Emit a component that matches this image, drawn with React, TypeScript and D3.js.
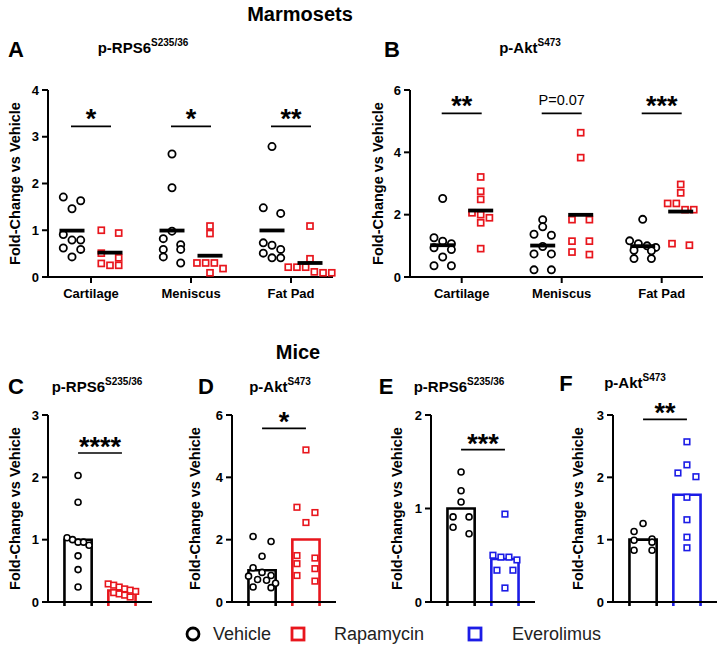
import React from 'react';
import * as d3 from 'd3';

// ---- data ----
const tissues = ['Cartilage', 'Meniscus', 'Fat Pad'];

// A: marmoset p-RPS6, one array per tissue
const rps6MarmVehicle = [
  [1.71, 1.63, 1.46, 0.91, 0.79, 0.79, 0.62, 0.59, 0.43],
  [2.63, 1.91, 0.98, 0.82, 0.69, 0.59, 0.59, 0.43, 0.3],
  [2.79, 1.48, 1.36, 0.73, 0.68, 0.59, 0.51, 0.41, 0.41],
];
const rps6MarmRapa = [
  [1.0, 0.94, 0.51, 0.41, 0.29, 0.25, 0.25],
  [1.09, 0.93, 0.3, 0.3, 0.3, 0.18, 0.09],
  [1.09, 0.39, 0.21, 0.21, 0.21, 0.11, 0.09, 0.09],
];
const rps6MarmSig = ['*', '*', '**'];
const rps6MarmTicks = [0, 1, 2, 3, 4];

// B: marmoset p-Akt
const aktMarmVehicle = [
  [2.52, 1.26, 1.15, 1.07, 0.94, 0.88, 0.64, 0.36, 0.36],
  [1.84, 1.61, 1.37, 1.34, 0.98, 0.74, 0.74, 0.23, 0.23],
  [1.85, 1.16, 1.07, 1.0, 0.95, 0.86, 0.84, 0.59, 0.59],
];
const aktMarmRapa = [
  [3.21, 2.75, 2.49, 2.06, 2.0, 1.9, 1.74, 0.91],
  [4.63, 3.83, 1.84, 1.84, 1.15, 1.15, 0.8, 0.72],
  [2.97, 2.7, 2.36, 2.36, 2.16, 2.16, 1.07, 1.02],
];
const aktMarmSig = ['**', 'P=0.07', '***'];
const aktMarmTicks = [0, 2, 4, 6];

// C-F: mice
const rps6RapaVehicle = [2.03, 1.6, 1.03, 1.0, 0.96, 0.96, 0.91, 0.74, 0.52, 0.24];
const rps6RapaDrug = [0.29, 0.27, 0.24, 0.21, 0.19, 0.17, 0.15, 0.13, 0.11, 0.08];
const aktRapaVehicle = [2.1, 1.94, 1.47, 1.1, 0.95, 0.85, 0.83, 0.72, 0.7, 0.6, 0.48, 0.46];
const aktRapaDrug = [4.88, 3.04, 2.87, 2.55, 1.49, 1.41, 1.23, 1.07, 0.85, 0.67];
const rps6EveroVehicle = [1.39, 1.19, 1.07, 0.91, 0.91, 0.8, 0.73];
const rps6EveroDrug = [0.94, 0.5, 0.48, 0.48, 0.45, 0.34, 0.34, 0.15];
const aktEveroVehicle = [1.26, 1.13, 1.01, 0.99, 0.96, 0.83, 0.83];
const aktEveroDrug = [2.57, 2.2, 2.07, 2.01, 1.68, 1.32, 1.04, 0.87];

const legendItems = ['Vehicle', 'Rapamycin', 'Everolimus'];

const FONT = '"Liberation Sans", Arial, Helvetica, sans-serif';
const RED = '#e8161d';
const BLUE = '#1c1ce6';
const AXIS_LABEL = 'Fold-Change vs Vehicle';
const STAR_SIZE = 27;

// Prism-like scatter: bin points into rows, centre each row
function swarm(values: number[], y: (v: number) => number, bin: number, step: number) {
  const sorted = [...values].sort((a, b) => b - a);
  const rows: number[][] = [];
  let cur: number[] = [];
  let start = 0;
  sorted.forEach(v => {
    const py = y(v);
    if (cur.length && py - start < bin) cur.push(v);
    else {
      if (cur.length) rows.push(cur);
      cur = [v];
      start = py;
    }
  });
  if (cur.length) rows.push(cur);
  const out: { v: number; dx: number }[] = [];
  rows.forEach(r => {
    const n = r.length;
    r.forEach((v, k) => {
      const dx = n === 2 ? (k === 0 ? -step : step) : (k - (n - 1) / 2) * step;
      out.push({ v, dx });
    });
  });
  return out;
}

const Circle = ({ x, y, r, w }: any) => (
  <circle cx={x} cy={y} r={r} fill="white" stroke="black" strokeWidth={w} />
);
const Square = ({ x, y, s, w, color }: any) => (
  <rect x={x - s / 2} y={y - s / 2} width={s} height={s} fill="white" stroke={color} strokeWidth={w} />
);

const Title = ({ x, y, main, sup }: any) => (
  <text x={x} y={y} textAnchor="middle" fontFamily={FONT} fontWeight="bold" fontSize={15}>
    <tspan>{main}</tspan>
    <tspan dy={-7} fontSize={10}>{sup}</tspan>
  </text>
);

const YAxis = ({ x, y, ticks, labelX, top, bottom }: any) => (
  <g>
    <line x1={x} x2={x} y1={bottom} y2={top} stroke="black" strokeWidth={2} />
    {ticks.map((t: number) => (
      <g key={t}>
        <line x1={x - 6} x2={x} y1={y(t)} y2={y(t)} stroke="black" strokeWidth={2} />
        <text x={x - 9} y={y(t) + 4.5} textAnchor="end" fontFamily={FONT} fontWeight="bold" fontSize={13}>
          {t}
        </text>
      </g>
    ))}
    <text
      transform={`translate(${labelX},${(top + bottom) / 2}) rotate(-90)`}
      textAnchor="middle"
      dy="0.35em"
      fontFamily={FONT}
      fontWeight="bold"
      fontSize={14.5}
    >
      {AXIS_LABEL}
    </text>
  </g>
);

function MarmosetPanel({ axisX, axisEnd, cat0, yMax, ticks, labelX, vehicle, rapa, sig, sigLevel }: any) {
  const top = 90;
  const bottom = 277;
  const y = d3.scaleLinear().domain([0, yMax]).range([bottom, top]);
  const x = d3.scalePoint<string>().domain(tissues).range([cat0, cat0 + 200]);
  const g = d3.scalePoint<string>().domain(['Vehicle', 'Rapamycin']).range([-19, 19]);
  return (
    <g>
      <YAxis x={axisX} y={y} ticks={ticks} labelX={labelX} top={top} bottom={bottom} />
      <line x1={axisX - 1} x2={axisEnd} y1={bottom} y2={bottom} stroke="black" strokeWidth={2} />
      {tissues.map((t, i) => {
        const cx = x(t)!;
        const vx = cx + g('Vehicle')!;
        const rx = cx + g('Rapamycin')!;
        const vm = d3.mean(vehicle[i] as number[])!;
        const rm = d3.mean(rapa[i] as number[])!;
        const isText = sig[i].startsWith('P');
        return (
          <g key={t}>
            <line x1={cx} x2={cx} y1={bottom} y2={bottom + 6} stroke="black" strokeWidth={2} />
            <text x={cx} y={bottom + 21} textAnchor="middle" fontFamily={FONT} fontWeight="bold" fontSize={13}>
              {t}
            </text>
            {swarm(vehicle[i], y, 7, 8.7).map((p, k) => (
              <Circle key={k} x={vx + p.dx} y={y(p.v)} r={3.6} w={1.8} />
            ))}
            {swarm(rapa[i], y, 7, 8.7).map((p, k) => (
              <Square key={k} x={rx + p.dx} y={y(p.v)} s={6} w={1.7} color={RED} />
            ))}
            <line x1={vx - 12.5} x2={vx + 12.5} y1={y(vm)} y2={y(vm)} stroke="black" strokeWidth={3.8} />
            <line x1={rx - 12.5} x2={rx + 12.5} y1={y(rm)} y2={y(rm)} stroke="black" strokeWidth={3.8} />
            <line x1={vx - 1} x2={rx + 1} y1={y(sigLevel)} y2={y(sigLevel)} stroke="black" strokeWidth={1.7} />
            <text
              x={cx}
              y={y(sigLevel) + (isText ? -8 : 2)}
              textAnchor="middle"
              fontFamily={FONT}
              fontWeight={isText ? 'normal' : 'bold'}
              fontSize={isText ? 14.5 : STAR_SIZE}
            >
              {sig[i]}
            </text>
          </g>
        );
      })}
    </g>
  );
}

function MousePanel({ axisX, yMax, ticks, labelX, vehicle, drug, color, sig, sigLevel, step }: any) {
  const top = 415;
  const bottom = 602;
  const y = d3.scaleLinear().domain([0, yMax]).range([bottom, top]);
  const x = d3.scaleBand<string>().domain(['Vehicle', 'Drug']).range([axisX, axisX + 104]).paddingInner(0.38).paddingOuter(0.375);
  const bw = x.bandwidth();
  const groups = [
    { key: 'Vehicle', vals: vehicle as number[], stroke: 'black' },
    { key: 'Drug', vals: drug as number[], stroke: color },
  ];
  const vc = x('Vehicle')! + bw / 2;
  const dc = x('Drug')! + bw / 2;
  return (
    <g>
      <YAxis x={axisX} y={y} ticks={ticks} labelX={labelX} top={top} bottom={bottom} />
      {groups.map(gr => {
        const m = d3.mean(gr.vals)!;
        const x0 = x(gr.key)!;
        return (
          <path
            key={gr.key}
            d={`M${x0},${bottom + 4}V${y(m)}H${x0 + bw}V${bottom + 4}`}
            fill="none"
            stroke={gr.stroke}
            strokeWidth={2.6}
          />
        );
      })}
      <line x1={axisX - 1} x2={axisX + 104} y1={bottom} y2={bottom} stroke="black" strokeWidth={2} />
      {swarm(vehicle, y, 8, step).map((p, k) => (
        <Circle key={k} x={vc + p.dx} y={y(p.v)} r={3} w={1.6} />
      ))}
      {swarm(drug, y, 7.5, step).map((p, k) => (
        <Square key={k} x={dc + p.dx} y={y(p.v)} s={5.6} w={1.6} color={color} />
      ))}
      <line x1={vc} x2={dc} y1={y(sigLevel)} y2={y(sigLevel)} stroke="black" strokeWidth={1.7} />
      <text x={(vc + dc) / 2} y={y(sigLevel) + 3} textAnchor="middle" fontFamily={FONT} fontWeight="bold" fontSize={STAR_SIZE}>
        {sig}
      </text>
    </g>
  );
}

const Letter = ({ x, y, children }: any) => (
  <text x={x} y={y} textAnchor="middle" fontFamily={FONT} fontWeight="bold" fontSize={22}>
    {children}
  </text>
);

export default function App() {
  return (
    <svg width={720} height={647} style={{ position: 'absolute', left: 0, top: 0, background: 'white' }}>
      <rect width={720} height={647} fill="white" />
      <text x={300} y={21} textAnchor="middle" fontFamily={FONT} fontWeight="bold" fontSize={20}>
        Marmosets
      </text>
      <Letter x={16} y={57}>A</Letter>
      <Letter x={392} y={57}>B</Letter>
      <Title x={143} y={53} main="p-RPS6" sup="S235/36" />
      <Title x={530} y={53} main="p-Akt" sup="S473" />
      <MarmosetPanel
        axisX={48}
        axisEnd={333}
        cat0={91}
        yMax={4}
        ticks={rps6MarmTicks}
        labelX={15}
        vehicle={rps6MarmVehicle}
        rapa={rps6MarmRapa}
        sig={rps6MarmSig}
        sigLevel={3.22}
      />
      <MarmosetPanel
        axisX={410}
        axisEnd={703}
        cat0={461.7}
        yMax={6}
        ticks={aktMarmTicks}
        labelX={378}
        vehicle={aktMarmVehicle}
        rapa={aktMarmRapa}
        sig={aktMarmSig}
        sigLevel={5.25}
      />

      <text x={298} y={359} textAnchor="middle" fontFamily={FONT} fontWeight="bold" fontSize={20}>
        Mice
      </text>
      <Letter x={16} y={394}>C</Letter>
      <Letter x={206} y={394}>D</Letter>
      <Letter x={386} y={394}>E</Letter>
      <Letter x={566} y={391}>F</Letter>
      <Title x={97} y={392} main="p-RPS6" sup="S235/36" />
      <Title x={280} y={392} main="p-Akt" sup="S473" />
      <Title x={459} y={392} main="p-RPS6" sup="S235/36" />
      <Title x={635} y={388} main="p-Akt" sup="S473" />
      <MousePanel axisX={48} yMax={3} ticks={[0, 1, 2, 3]} labelX={15} vehicle={rps6RapaVehicle} drug={rps6RapaDrug} color={RED} sig="****" sigLevel={2.39} step={5.5} />
      <MousePanel axisX={232} yMax={6} ticks={[0, 2, 4, 6]} labelX={195} vehicle={aktRapaVehicle} drug={aktRapaDrug} color={RED} sig="*" sigLevel={5.57} step={9} />
      <MousePanel axisX={431} yMax={2} ticks={[0, 1, 2]} labelX={397} vehicle={rps6EveroVehicle} drug={rps6EveroDrug} color={BLUE} sig="***" sigLevel={1.63} step={8} />
      <MousePanel axisX={613} yMax={3} ticks={[0, 1, 2, 3]} labelX={578} vehicle={aktEveroVehicle} drug={aktEveroDrug} color={BLUE} sig="**" sigLevel={2.93} step={9} />

      {/* legend */}
      <g fontFamily={FONT} fontSize={18} fill="#222">
        <circle cx={193} cy={634} r={6} fill="white" stroke="black" strokeWidth={2.8} />
        <text x={213} y={640}>{legendItems[0]}</text>
        <rect x={292} y={628} width={12} height={12} fill="white" stroke={RED} strokeWidth={2.8} />
        <text x={334} y={640}>{legendItems[1]}</text>
        <rect x={469} y={628} width={12} height={12} fill="white" stroke={BLUE} strokeWidth={2.8} />
        <text x={512} y={640}>{legendItems[2]}</text>
      </g>
    </svg>
  );
}
